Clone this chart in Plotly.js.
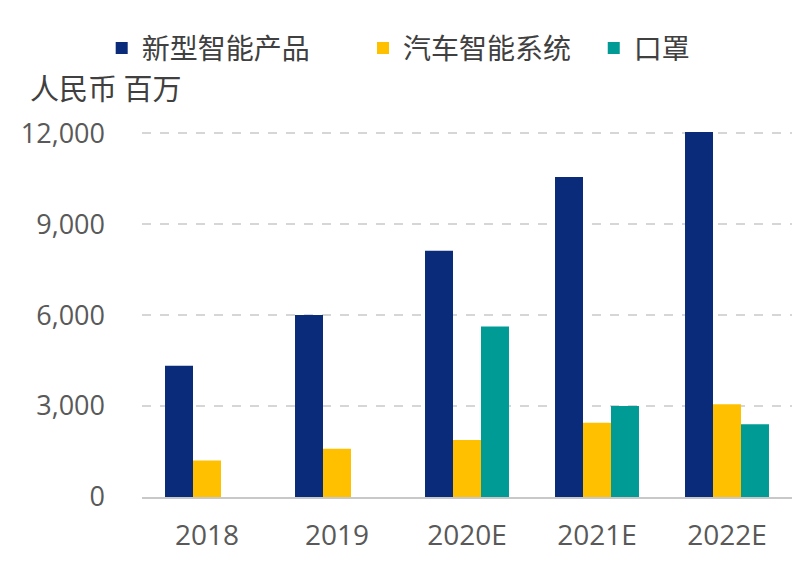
<!DOCTYPE html>
<html>
<head>
<meta charset="utf-8">
<script src="https://cdn.plot.ly/plotly-3.0.1.min.js"></script>
<style>html,body{margin:0;padding:0;background:#fff;}</style>
</head>
<body>
<div id="chart" style="width:800px;height:564px;"></div>
<script>
const categories = ["2018", "2019", "2020E", "2021E", "2022E"];
const seriesNames = ["新型智能产品", "汽车智能系统", "口罩"];
const newSmartProducts = [4330, 6000, 8120, 10550, 12040];
const autoSmartSystems = [1200, 1590, 1880, 2450, 3060];
const masks = [null, null, 5620, 3000, 2400];
const yTickVals = [0, 3000, 6000, 9000, 12000];
const yTickText = ["0", "3,000", "6,000", "9,000", "12,000"];
const yUnitLabel = "人民币 百万";

const colors = ["#0a2a7a", "#ffc000", "#009b95"];
const seriesValues = [newSmartProducts, autoSmartSystems, masks];
const legendIds = ["legend", "legend2", "legend3"];
const legendX = [-0.062, 0.340, 0.695];

const traces = seriesValues.map((vals, i) => ({
  type: "bar",
  name: seriesNames[i],
  x: categories,
  y: vals,
  legend: legendIds[i],
  marker: {color: colors[i], line: {width: 0}},
  hoverinfo: "x+y+name"
}));

const layout = {
  width: 800,
  height: 564,
  margin: {l: 142, r: 8, t: 124, b: 67},
  paper_bgcolor: "#ffffff",
  plot_bgcolor: "#ffffff",
  barmode: "group",
  bargap: 0.354,
  bargroupgap: 0,
  font: {family: "Noto Sans CJK SC, sans-serif", color: "#595959"},
  showlegend: true,
  xaxis: {
    type: "category",
    showgrid: false,
    showline: true,
    linecolor: "#c8c8c8",
    linewidth: 2,
    ticks: "",
    tickfont: {family: "Open Sans, sans-serif", size: 28, color: "#595959"},
    ticklabelstandoff: 12,
    zeroline: false
  },
  yaxis: {
    range: [0, 12300],
    tickvals: yTickVals,
    ticktext: yTickText,
    showgrid: true,
    gridcolor: "#d6d6d6",
    gridwidth: 2,
    griddash: "dash",
    zeroline: false,
    showline: false,
    ticks: "",
    tickfont: {family: "Open Sans, sans-serif", size: 27, color: "#595959"},
    ticklabelstandoff: 36
  },
  annotations: [{
    text: yUnitLabel,
    xref: "paper", yref: "paper",
    x: -0.176, xanchor: "left",
    y: 1.098, yanchor: "middle",
    showarrow: false,
    font: {size: 29, color: "#404040", family: "Noto Sans CJK SC, sans-serif"}
  }]
};

legendIds.forEach((id, i) => {
  layout[id] = {
    orientation: "h",
    x: legendX[i], xanchor: "left",
    y: 1.27, yanchor: "top",
    font: {size: 28, color: "#404040", family: "Noto Sans CJK SC, sans-serif"},
    itemwidth: 30,
    bgcolor: "rgba(0,0,0,0)"
  };
});

Plotly.newPlot("chart", traces, layout, {displayModeBar: false, staticPlot: true});
</script>
</body>
</html>
